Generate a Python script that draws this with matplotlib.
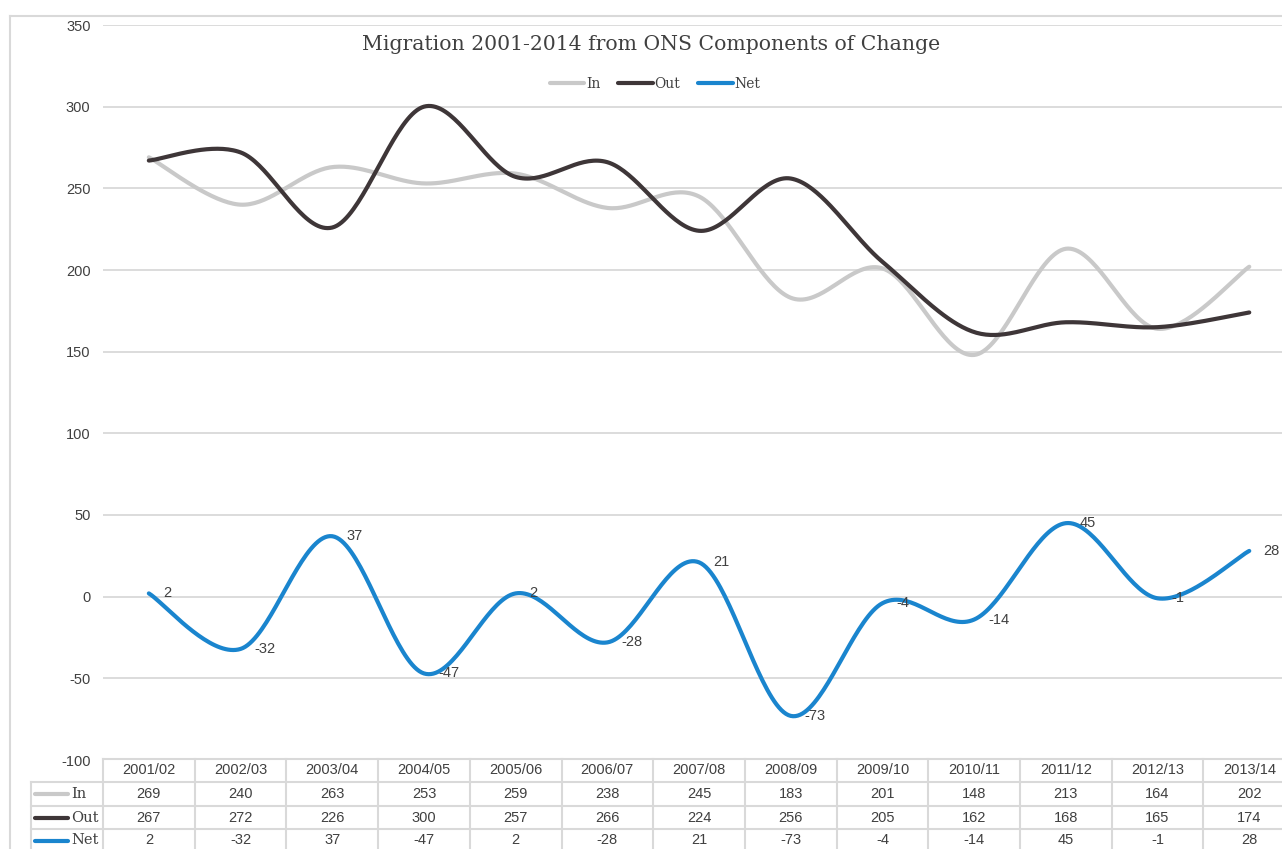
import numpy as np
import matplotlib
matplotlib.use("Agg")
import matplotlib.pyplot as plt
from matplotlib.lines import Line2D
from matplotlib.transforms import blended_transform_factory

categories = ["2001/02", "2002/03", "2003/04", "2004/05", "2005/06", "2006/07", "2007/08",
              "2008/09", "2009/10", "2010/11", "2011/12", "2012/13", "2013/14"]
in_vals = [269, 240, 263, 253, 259, 238, 245, 183, 201, 148, 213, 164, 202]
out_vals = [267, 272, 226, 300, 257, 266, 224, 256, 205, 162, 168, 165, 174]
net_vals = [2, -32, 37, -47, 2, -28, 21, -73, -4, -14, 45, -1, 28]
series_names = ["In", "Out", "Net"]
series_colors = ["#C9C9C9", "#3E3638", "#1A85CE"]
yticks = [-100, -50, 0, 50, 100, 150, 200, 250, 300, 350]

W, H = 1282, 849
fig = plt.figure(figsize=(W / 100, H / 100), dpi=100)
fig.patch.set_facecolor("white")

def fx(px):
    return px / W

def fy(py):
    return 1 - py / H

grid_c = "#D9D9D9"
text_c = "#404040"
serif = ["DejaVu Serif"]
sans = ["Liberation Sans", "DejaVu Sans"]

# outer border
fig.add_artist(Line2D([fx(10), fx(10)], [fy(16), 0], transform=fig.transFigure, color=grid_c, lw=1.5))
fig.add_artist(Line2D([fx(10), 1], [fy(16), fy(16)], transform=fig.transFigure, color=grid_c, lw=1.5))

left_px, cell_w = 103, 91.7
right_px = left_px + cell_w * len(categories)
top_px, bot_px = 25, 760
ax = fig.add_axes([fx(left_px), fy(bot_px), fx(right_px) - fx(left_px), fy(top_px) - fy(bot_px)])
ax.set_xlim(-0.5, len(categories) - 0.5)
ax.set_ylim(-100, 350)
for s in ax.spines.values():
    s.set_visible(False)
ax.set_xticks([])
ax.set_yticks(yticks)
ax.set_yticklabels([str(v) for v in yticks], fontfamily=sans, fontsize=10.5, color=text_c)
ax.tick_params(axis="y", length=0, pad=9)
ax.grid(axis="y", color=grid_c, lw=1.3)
ax.set_axisbelow(True)


def smooth(xs, ys, n=40):
    xs = np.asarray(xs, float)
    ys = np.asarray(ys, float)
    P = np.column_stack([xs, ys])
    out = []
    for i in range(len(P) - 1):
        p0 = P[i - 1] if i > 0 else P[i]
        p1 = P[i]
        p2 = P[i + 1]
        p3 = P[i + 2] if i + 2 < len(P) else P[i + 1]
        c1 = p1 + (p2 - p0) / 6.0
        c2 = p2 - (p3 - p1) / 6.0
        t = np.linspace(0, 1, n)[:, None]
        seg = ((1 - t) ** 3) * p1 + 3 * ((1 - t) ** 2) * t * c1 + 3 * (1 - t) * t ** 2 * c2 + t ** 3 * p2
        out.append(seg if i == 0 else seg[1:])
    out = np.vstack(out)
    return out[:, 0], out[:, 1]

x = np.arange(len(categories))
all_vals = [in_vals, out_vals, net_vals]
for vals, c, name in zip(all_vals, series_colors, series_names):
    sx, sy = smooth(x, vals)
    ax.plot(sx, sy, color=c, lw=3.0, solid_capstyle="round", label=name, zorder=3)

for xi, v in zip(x, net_vals):
    ax.annotate(str(v), (xi, v), xytext=(14, 0), textcoords="offset pixels",
                ha="left", va="center", fontsize=10.5, fontfamily=sans, color=text_c, zorder=4)

# title and legend
fig.text(fx(651), fy(44), "Migration 2001-2014 from ONS Components of Change",
         ha="center", va="center", fontsize=14.7, fontfamily=serif, color=text_c)
handles = [Line2D([0], [0], color=c, lw=3.0, solid_capstyle="round") for c in series_colors]
leg = fig.legend(handles, series_names, loc="center", bbox_to_anchor=(fx(655), fy(84)), ncol=3,
                 frameon=False, handlelength=2.5, handletextpad=0.1, columnspacing=1.3,
                 prop={"family": serif, "size": 10})
for t in leg.get_texts():
    t.set_color(text_c)

# data table
tr = blended_transform_factory(ax.transData, fig.transFigure)
row_edges = [759, 782, 806, 829, 852]
leg_left = 31
fig.add_artist(Line2D([fx(left_px), fx(right_px)], [fy(row_edges[0])] * 2, transform=fig.transFigure, color=grid_c, lw=1.5))
for ry in row_edges[1:]:
    fig.add_artist(Line2D([fx(leg_left), fx(right_px)], [fy(ry)] * 2, transform=fig.transFigure, color=grid_c, lw=1.5))
for i in range(len(categories) + 1):
    fig.add_artist(Line2D([i - 0.5, i - 0.5], [fy(row_edges[0]), fy(row_edges[-1])], transform=tr, color=grid_c, lw=1.5))
fig.add_artist(Line2D([fx(leg_left)] * 2, [fy(row_edges[1]), fy(row_edges[-1])], transform=fig.transFigure, color=grid_c, lw=1.5))

def rc(k):
    return fy((row_edges[k] + row_edges[k + 1]) / 2)

for i, cat in enumerate(categories):
    fig.text(i, rc(0), cat, transform=tr, ha="center", va="center", fontsize=10.5, fontfamily=sans, color=text_c)
for r, (vals, name, c) in enumerate(zip(all_vals, series_names, series_colors)):
    yc = rc(r + 1)
    for i, v in enumerate(vals):
        fig.text(i, yc, str(v), transform=tr, ha="center", va="center", fontsize=10.5, fontfamily=sans, color=text_c)
    fig.add_artist(Line2D([fx(35), fx(68)], [yc, yc], transform=fig.transFigure, color=c, lw=3.0, solid_capstyle="round"))
    fig.text(fx(71), yc, name, ha="left", va="center", fontsize=10.5, fontfamily=serif, color=text_c)

fig.savefig("out.png", dpi=100, facecolor="white")
